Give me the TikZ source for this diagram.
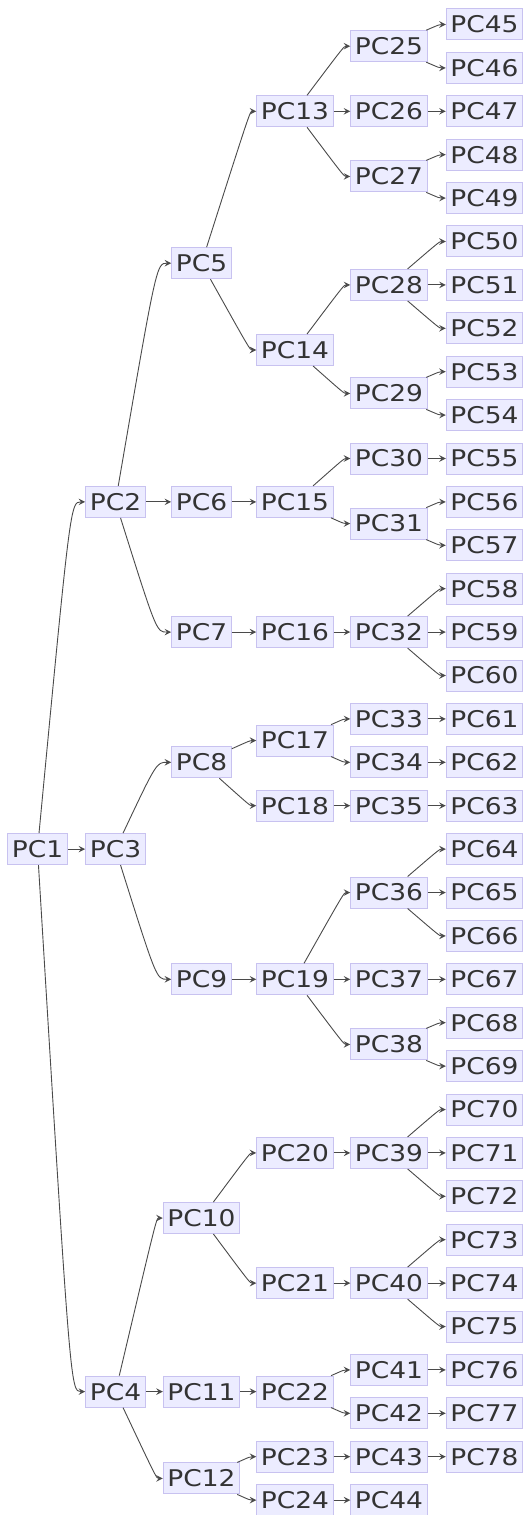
\documentclass[tikz,border=0pt]{standalone}
\usepackage{fontspec}
\setmainfont{DejaVu Sans}[FakeStretch=1.15]
\usetikzlibrary{calc}
\definecolor{boxfill}{HTML}{ECECFF}
\definecolor{boxline}{HTML}{C8C2F0}
\definecolor{inkgray}{HTML}{333333}
\definecolor{wiregray}{HTML}{4A4A4A}
\begin{document}
\begin{tikzpicture}
[x={(0.5pt,0)}, y={(0,-21.7pt)},
  nodedecorate/.style={shape=rectangle,fill=boxfill,draw=boxline,line width=0.5pt,
    text=inkgray,font=\fontsize{11.5}{13}\selectfont,minimum height=15.5pt,
    inner xsep=2.1pt,inner ysep=0pt},
  arrowdecorate/.style={->,>=stealth,draw=wiregray,line width=0.45pt}]
\useasboundingbox (0,-0.5645) rectangle (523,34.343);
%% nodes or vertices
\foreach \nodename/\x/\y in {PC1/37.5/19,
  PC2/115.5/11, PC3/115.5/19, PC4/115.5/31.5,
  PC5/201.5/5.5, PC6/201.5/11, PC7/201.5/14, PC8/201.5/17,
  PC9/201.5/22, PC10/201.5/27.5, PC11/201.5/31.5, PC12/201.5/33.5,
  PC13/295/2, PC14/295/7.5, PC15/295/11, PC16/295/14, PC17/295/16.5,
  PC18/295/18, PC19/295/22, PC20/295/26, PC21/295/29, PC22/295/31.5,
  PC23/295/33, PC24/295/34,
  PC25/389/0.5, PC26/389/2, PC27/389/3.5, PC28/389/6, PC29/389/8.5,
  PC30/389/10, PC31/389/11.5, PC32/389/14, PC33/389/16, PC34/389/17,
  PC35/389/18, PC36/389/20, PC37/389/22, PC38/389/23.5, PC39/389/26,
  PC40/389/29, PC41/389/31, PC42/389/32, PC43/389/33, PC44/389/34} {
  \node (\nodename) at (\x,\y) [nodedecorate] {\nodename};
}
\foreach \n [evaluate=\n as \r using int(\n-45)] in {45,...,78} {
  \node (PC\n) at (484.5,\r) [nodedecorate] {PC\n};
}
%% edges or lines
\foreach \startnode/\endnode in {PC1/PC2, PC1/PC3, PC1/PC4,
  PC2/PC5, PC2/PC6, PC2/PC7, PC3/PC8, PC3/PC9,
  PC4/PC10, PC4/PC11, PC4/PC12,
  PC5/PC13, PC5/PC14, PC6/PC15, PC7/PC16, PC8/PC17, PC8/PC18,
  PC9/PC19, PC10/PC20, PC10/PC21, PC11/PC22, PC12/PC23, PC12/PC24,
  PC13/PC25, PC13/PC26, PC13/PC27, PC14/PC28, PC14/PC29,
  PC15/PC30, PC15/PC31, PC16/PC32, PC17/PC33, PC17/PC34, PC18/PC35,
  PC19/PC36, PC19/PC37, PC19/PC38, PC20/PC39, PC21/PC40,
  PC22/PC41, PC22/PC42, PC23/PC43, PC24/PC44,
  PC25/PC45, PC25/PC46, PC26/PC47, PC27/PC48, PC27/PC49,
  PC28/PC50, PC28/PC51, PC28/PC52, PC29/PC53, PC29/PC54,
  PC30/PC55, PC31/PC56, PC31/PC57, PC32/PC58, PC32/PC59, PC32/PC60,
  PC33/PC61, PC34/PC62, PC35/PC63, PC36/PC64, PC36/PC65, PC36/PC66,
  PC37/PC67, PC38/PC68, PC38/PC69, PC39/PC70, PC39/PC71, PC39/PC72,
  PC40/PC73, PC40/PC74, PC40/PC75, PC41/PC76, PC42/PC77, PC43/PC78} {
  \draw[arrowdecorate] (\startnode) .. controls ($(\endnode)+(-45,0)$) .. (\endnode.west);
}
\end{tikzpicture}
\end{document}
